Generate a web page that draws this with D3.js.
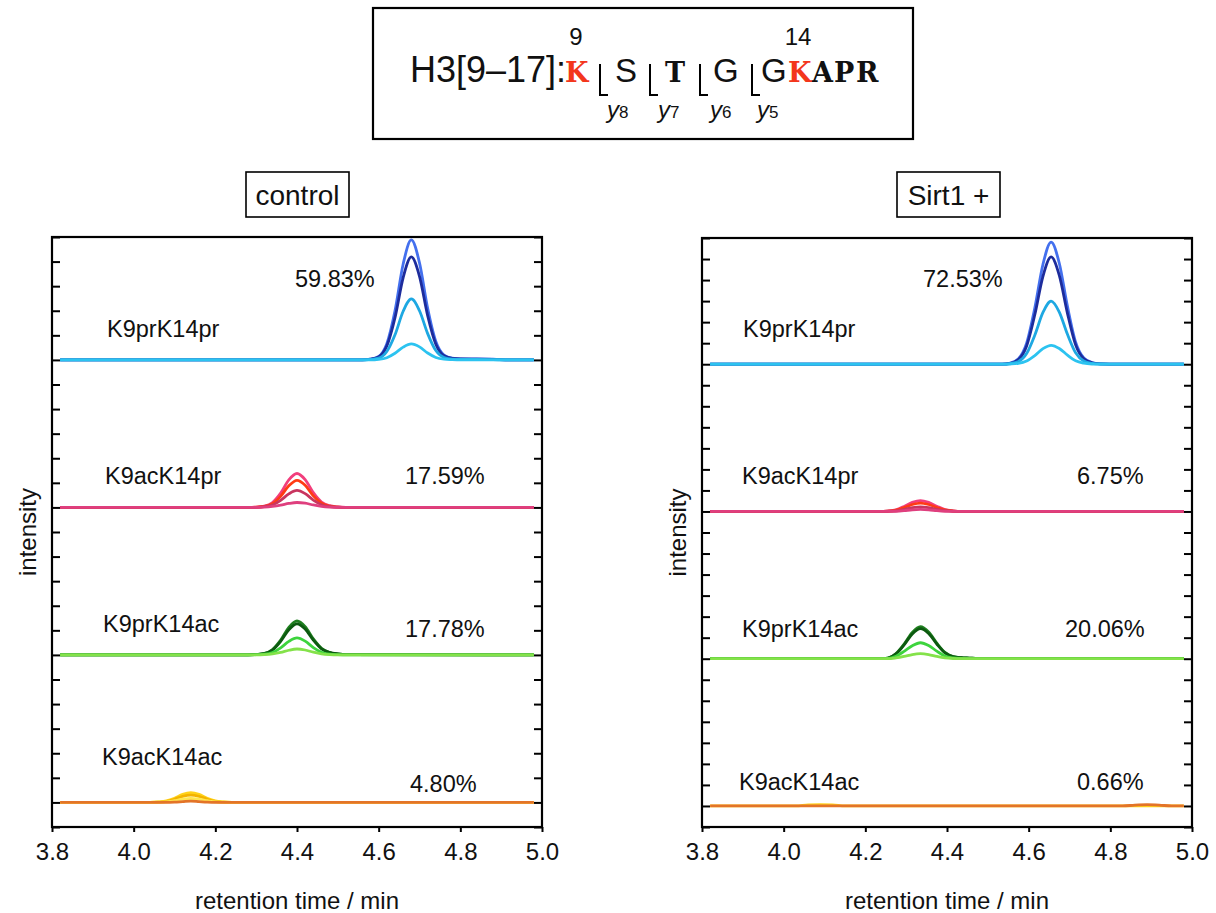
<!DOCTYPE html>
<html>
<head>
<meta charset="utf-8">
<script src="https://cdn.jsdelivr.net/npm/d3@7"></script>
<style>
  body { margin: 0; background: #fff; }
  text { font-family: "Liberation Sans", Arial, Helvetica, sans-serif; fill: #111; }
</style>
</head>
<body>
<div id="chart"></div>
<script>
// ---- data (intensity in tick units above each trace baseline) ----
const groupNames = ["K9prK14pr", "K9acK14pr", "K9prK14ac", "K9acK14ac"];
const ctrlPercents = ["59.83%", "17.59%", "17.78%", "4.80%"];
const sirtPercents = ["72.53%", "6.75%", "20.06%", "0.66%"];
const xTicks = [3.8, 4.0, 4.2, 4.4, 4.6, 4.8, 5.0];

// control
const ctrlPrPrTime = [3.82, 4.56, 4.58, 4.60, 4.62, 4.64, 4.66, 4.68, 4.70, 4.72, 4.74, 4.76, 4.78, 4.80, 4.84, 4.88, 4.92, 4.98];
const ctrlPrPr = [
  [0, 0, 0.03, 0.14, 0.66, 2.0, 3.9, 4.88, 3.95, 2.1, 0.75, 0.2, 0.07, 0.04, 0.04, 0.03, 0, 0],
  [0, 0, 0.03, 0.12, 0.57, 1.72, 3.35, 4.19, 3.4, 1.8, 0.64, 0.17, 0.06, 0.04, 0.03, 0.02, 0, 0],
  [0, 0, 0.02, 0.07, 0.34, 1.02, 1.98, 2.48, 2.0, 1.07, 0.38, 0.1, 0.03, 0.02, 0.02, 0.01, 0, 0],
  [0, 0, 0, 0.02, 0.09, 0.27, 0.52, 0.65, 0.53, 0.28, 0.1, 0.03, 0.01, 0, 0, 0, 0, 0]
];
const ctrlAcPrTime = [3.82, 4.28, 4.30, 4.32, 4.34, 4.36, 4.38, 4.40, 4.42, 4.44, 4.46, 4.48, 4.50, 4.52, 4.98];
const ctrlAcPr = [
  [0, 0, 0.01, 0.05, 0.2, 0.58, 1.12, 1.38, 1.13, 0.6, 0.22, 0.07, 0.02, 0, 0],
  [0, 0, 0.01, 0.04, 0.15, 0.45, 0.88, 1.1, 0.9, 0.47, 0.17, 0.05, 0.01, 0, 0],
  [0, 0, 0, 0.03, 0.1, 0.29, 0.55, 0.69, 0.56, 0.3, 0.11, 0.03, 0.01, 0, 0],
  [0, 0, 0, 0.01, 0.04, 0.09, 0.16, 0.2, 0.17, 0.1, 0.04, 0.01, 0, 0, 0]
];
const ctrlPrAcTime = [3.82, 4.28, 4.30, 4.32, 4.34, 4.36, 4.38, 4.40, 4.42, 4.44, 4.46, 4.48, 4.50, 4.52, 4.98];
const ctrlPrAc = [
  [0, 0, 0.02, 0.06, 0.22, 0.6, 1.12, 1.38, 1.15, 0.65, 0.27, 0.1, 0.04, 0.01, 0],
  [0, 0, 0.02, 0.05, 0.2, 0.55, 1.02, 1.26, 1.05, 0.6, 0.25, 0.1, 0.04, 0.01, 0],
  [0, 0, 0.01, 0.03, 0.1, 0.29, 0.55, 0.69, 0.56, 0.3, 0.11, 0.03, 0.01, 0, 0],
  [0, 0, 0, 0.01, 0.04, 0.1, 0.19, 0.24, 0.2, 0.11, 0.04, 0.01, 0, 0, 0]
];
const ctrlAcAcTime = [3.82, 4.04, 4.06, 4.08, 4.10, 4.12, 4.14, 4.16, 4.18, 4.20, 4.22, 4.24, 4.98];
const ctrlAcAc = [
  [0, 0, 0.02, 0.06, 0.17, 0.33, 0.4, 0.33, 0.17, 0.06, 0.02, 0, 0],
  [0, 0, 0.01, 0.04, 0.13, 0.25, 0.3, 0.25, 0.13, 0.04, 0.01, 0, 0],
  [0, 0, 0.01, 0.02, 0.07, 0.13, 0.16, 0.13, 0.07, 0.02, 0.01, 0, 0],
  [0, 0, 0, 0, 0.01, 0.03, 0.05, 0.03, 0.01, 0, 0, 0, 0]
];

// Sirt1 +
const sirtPrPrTime = [3.82, 4.535, 4.555, 4.575, 4.595, 4.615, 4.635, 4.655, 4.675, 4.695, 4.715, 4.735, 4.755, 4.775, 4.82, 4.98];
const sirtPrPr = [
  [0, 0, 0.05, 0.26, 1.0, 2.67, 4.75, 5.8, 4.8, 2.75, 1.05, 0.3, 0.08, 0.02, 0, 0],
  [0, 0, 0.04, 0.22, 0.87, 2.35, 4.18, 5.1, 4.22, 2.42, 0.92, 0.26, 0.07, 0.02, 0, 0],
  [0, 0, 0.03, 0.13, 0.51, 1.38, 2.46, 3.0, 2.48, 1.42, 0.54, 0.15, 0.04, 0.01, 0, 0],
  [0, 0, 0.01, 0.04, 0.15, 0.41, 0.74, 0.9, 0.75, 0.43, 0.16, 0.05, 0.01, 0, 0, 0]
];
const sirtAcPrTime = [3.82, 4.235, 4.255, 4.275, 4.295, 4.315, 4.335, 4.355, 4.375, 4.395, 4.415, 4.435, 4.98];
const sirtAcPr = [
  [0, 0, 0.02, 0.08, 0.24, 0.43, 0.52, 0.43, 0.25, 0.09, 0.03, 0, 0],
  [0, 0, 0.01, 0.06, 0.18, 0.33, 0.4, 0.33, 0.19, 0.07, 0.02, 0, 0],
  [0, 0, 0.01, 0.03, 0.1, 0.18, 0.22, 0.18, 0.1, 0.04, 0.01, 0, 0],
  [0, 0, 0, 0.01, 0.04, 0.08, 0.1, 0.08, 0.04, 0.01, 0, 0, 0]
];
const sirtPrAcTime = [3.82, 4.235, 4.255, 4.275, 4.295, 4.315, 4.335, 4.355, 4.375, 4.395, 4.415, 4.435, 4.455, 4.475, 4.98];
const sirtPrAc = [
  [0, 0, 0.03, 0.25, 0.7, 1.25, 1.52, 1.27, 0.74, 0.3, 0.1, 0.05, 0.03, 0.01, 0],
  [0, 0, 0.03, 0.23, 0.66, 1.18, 1.43, 1.2, 0.7, 0.28, 0.1, 0.05, 0.03, 0.01, 0],
  [0, 0, 0.01, 0.12, 0.35, 0.62, 0.76, 0.63, 0.36, 0.13, 0.04, 0.01, 0, 0, 0],
  [0, 0, 0, 0.04, 0.11, 0.2, 0.24, 0.2, 0.11, 0.04, 0.01, 0, 0, 0, 0]
];
const sirtAcAcTime = [3.82, 4.03, 4.06, 4.09, 4.12, 4.15, 4.83, 4.86, 4.89, 4.92, 4.95, 4.98];
const sirtAcAc = [
  [0, 0, 0.05, 0.06, 0.05, 0, 0, 0, 0, 0, 0, 0],
  [0, 0, 0, 0, 0, 0, 0, 0.04, 0.06, 0.04, 0, 0]
];

// colours per trace (last one drawn sits on top at the baseline)
const prPrColors = ["#4470ee", "#1d2c9c", "#1ea8e2", "#2cc3f0"];
const acPrColors = ["#f23e7c", "#ff3b14", "#c8355f", "#df3f7e"];
const prAcColors = ["#1f7f1f", "#0c5a10", "#3dd43d", "#84e24a"];
const acAcColors = ["#ffd21a", "#f3b300", "#ffe650", "#e37428"];
const sirtAcAcColors = ["#ffd21a", "#e37428"];

// ---- layout ----
const W = 1216, H = 913;
const svg = d3.select("#chart").append("svg")
  .attr("width", W)
  .attr("height", H);

const panels = [
  {
    title: "control", titleBox: [246, 172, 103, 45],
    x0: 52, x1: 542, y0: 237, y1: 827, nTicks: 24, bases: [19, 13, 7, 1],
    groups: [
      { time: ctrlPrPrTime, series: ctrlPrPr, colors: prPrColors },
      { time: ctrlAcPrTime, series: ctrlAcPr, colors: acPrColors },
      { time: ctrlPrAcTime, series: ctrlPrAc, colors: prAcColors },
      { time: ctrlAcAcTime, series: ctrlAcAc, colors: acAcColors }
    ],
    percents: ctrlPercents,
    namePos: [[107, 337], [105, 484], [103, 632], [102, 765]],
    pctPos: [[295, 287], [405, 484], [405, 637], [410, 792]]
  },
  {
    title: "Sirt1 +", titleBox: [897, 172, 103, 45],
    x0: 702, x1: 1192, y0: 238, y1: 827, nTicks: 28, bases: [22, 15, 8, 1],
    groups: [
      { time: sirtPrPrTime, series: sirtPrPr, colors: prPrColors },
      { time: sirtAcPrTime, series: sirtAcPr, colors: acPrColors },
      { time: sirtPrAcTime, series: sirtPrAc, colors: prAcColors },
      { time: sirtAcAcTime, series: sirtAcAc, colors: sirtAcAcColors }
    ],
    percents: sirtPercents,
    namePos: [[743, 337], [742, 484], [742, 637], [739, 790]],
    pctPos: [[923, 287], [1077, 484], [1065, 637], [1077, 790]]
  }
];

panels.forEach(function(p) {
  const g = svg.append("g");
  const x = d3.scaleLinear().domain([3.8, 5.0]).range([p.x0, p.x1]);
  const y = d3.scaleLinear().domain([0, p.nTicks]).range([p.y1, p.y0]);

  // traces
  p.groups.forEach(function(grp, gi) {
    const base = p.bases[gi];
    const line = d3.line()
      .x(function(d) { return x(d[0]); })
      .y(function(d) { return y(base + d[1]); })
      .curve(d3.curveMonotoneX);
    grp.series.forEach(function(vals, si) {
      const pts = grp.time.map(function(t, i) { return [t, vals[i]]; });
      g.append("path")
        .attr("d", line(pts))
        .attr("fill", "none")
        .attr("stroke", grp.colors[si])
        .attr("stroke-width", 2.8)
        .attr("stroke-linejoin", "round");
    });
  });

  // y ticks pointing inward on both sides
  const yTicks = d3.range(0, p.nTicks + 1);
  const leftAx = g.append("g").attr("transform", "translate(" + p.x0 + ",0)")
    .call(d3.axisRight(y).tickValues(yTicks).tickSize(8).tickFormat(""));
  const rightAx = g.append("g").attr("transform", "translate(" + p.x1 + ",0)")
    .call(d3.axisLeft(y).tickValues(yTicks).tickSize(8).tickFormat(""));
  [leftAx, rightAx].forEach(function(a) {
    a.select(".domain").remove();
    a.selectAll("line").attr("stroke", "#000").attr("stroke-width", 2);
  });

  // x axis
  const xAx = g.append("g").attr("transform", "translate(0," + p.y1 + ")")
    .call(d3.axisBottom(x).tickValues(xTicks).tickSize(5).tickPadding(11).tickFormat(d3.format(".1f")));
  xAx.select(".domain").remove();
  xAx.selectAll("line").attr("stroke", "#000").attr("stroke-width", 2);
  xAx.selectAll("text")
    .style("font-family", "'Liberation Sans', Arial, sans-serif")
    .style("font-size", "24px")
    .attr("fill", "#111");

  // frame
  g.append("rect")
    .attr("x", p.x0).attr("y", p.y0)
    .attr("width", p.x1 - p.x0).attr("height", p.y1 - p.y0)
    .attr("fill", "none").attr("stroke", "#000").attr("stroke-width", 2.2);

  // axis titles
  g.append("text")
    .attr("x", (p.x0 + p.x1) / 2).attr("y", 909)
    .attr("text-anchor", "middle")
    .style("font-size", "24px")
    .text("retention time / min");
  g.append("text")
    .attr("transform", "translate(" + (p.x0 - 16) + "," + ((p.y0 + p.y1) / 2) + ") rotate(-90)")
    .attr("text-anchor", "middle")
    .style("font-size", "24px")
    .text("intensity");

  // trace labels
  groupNames.forEach(function(name, i) {
    g.append("text")
      .attr("x", p.namePos[i][0]).attr("y", p.namePos[i][1])
      .style("font-size", "23.5px")
      .text(name);
    g.append("text")
      .attr("x", p.pctPos[i][0]).attr("y", p.pctPos[i][1])
      .style("font-size", "23.5px")
      .text(p.percents[i]);
  });

  // panel title box
  const tb = p.titleBox;
  g.append("rect")
    .attr("x", tb[0]).attr("y", tb[1]).attr("width", tb[2]).attr("height", tb[3])
    .attr("fill", "none").attr("stroke", "#000").attr("stroke-width", 1.6);
  g.append("text")
    .attr("x", tb[0] + tb[2] / 2).attr("y", 205)
    .attr("text-anchor", "middle")
    .style("font-size", "28px")
    .text(p.title);
});

// ---- peptide header ----
const hdr = svg.append("g");
hdr.append("rect")
  .attr("x", 373).attr("y", 8).attr("width", 540).attr("height", 131)
  .attr("fill", "none").attr("stroke", "#000").attr("stroke-width", 2.2);

const slab = "'DejaVu Serif', 'Liberation Serif', serif";
const sans = "'Liberation Sans', Arial, sans-serif";
const red = "#f3361c";
const baseY = 82;

hdr.append("text").attr("x", 410).attr("y", baseY)
  .style("font-size", "36px").text("H3[9\u201317]:");

// sequence letters: [char, x, font, bold, colour]
const seqLetters = [
  ["K", 565, slab, true, red],
  ["S", 615, sans, false, "#111"],
  ["T", 665, slab, true, "#111"],
  ["G", 713, sans, false, "#111"],
  ["G", 761, sans, false, "#111"],
  ["K", 788, slab, true, red],
  ["A", 812, slab, true, "#111"],
  ["P", 834, slab, true, "#111"],
  ["R", 856, slab, true, "#111"]
];
seqLetters.forEach(function(s) {
  hdr.append("text")
    .attr("x", s[1]).attr("y", baseY)
    .style("font-family", s[2])
    .style("font-size", s[2] === slab ? "27px" : "33px")
    .style("font-weight", s[3] ? "bold" : "normal")
    .style("fill", s[4])
    .text(s[0]);
});

// residue numbers
[["9", 576], ["14", 798]].forEach(function(n) {
  hdr.append("text").attr("x", n[1]).attr("y", 45)
    .attr("text-anchor", "middle")
    .style("font-size", "24px").text(n[0]);
});

// fragment brackets and y-ion labels
[[600, 607, "8"], [650, 658, "7"], [700, 710, "6"], [752, 757, "5"]].forEach(function(b) {
  hdr.append("path")
    .attr("d", "M" + b[0] + ",64 V95 H" + (b[0] + 8))
    .attr("fill", "none").attr("stroke", "#000").attr("stroke-width", 2);
  const t = hdr.append("text").attr("x", b[1]).attr("y", 118)
    .style("font-size", "24px");
  t.append("tspan").style("font-style", "italic").text("y");
  t.append("tspan").style("font-size", "17px").text(b[2]);
});
</script>
</body>
</html>
